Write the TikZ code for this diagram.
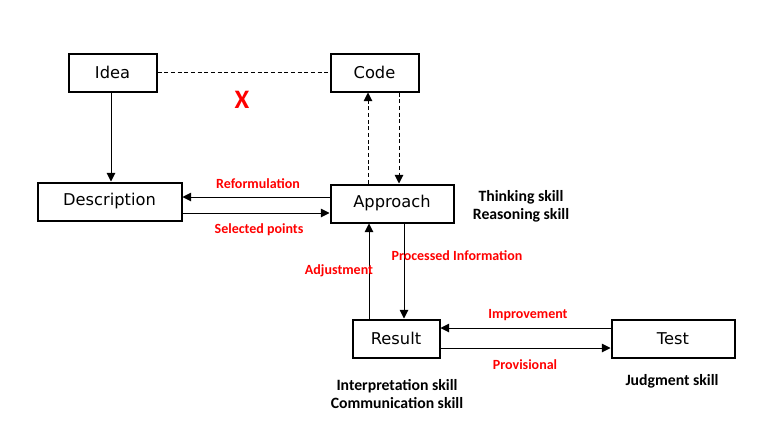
\documentclass[tikz,border=0pt]{standalone}
\usepackage{fontspec}
\setmainfont{DejaVu Sans}
\newfontfamily\lblfont{Carlito}
\usetikzlibrary{arrows.meta}
\definecolor{lblred}{RGB}{255,0,0}
\begin{document}
\begin{tikzpicture}[x=0.75pt,y=-0.75pt,
  box/.style={draw,line width=1.5pt,minimum height=28.5pt,inner sep=0pt,font=\fontsize{12.2}{14}\selectfont},
  conn/.style={line width=0.75pt},
  arr/.style={conn,-{Triangle[length=6.5pt,width=6.5pt]}},
  dsh/.style={dash pattern=on 3pt off 2pt},
  redlbl/.style={text=lblred,font=\lblfont\bfseries\fontsize{10.5}{12}\selectfont,inner sep=0pt},
  skill/.style={font=\lblfont\bfseries\fontsize{11.8}{13.5}\selectfont,align=center,inner sep=0pt}]
\useasboundingbox (0,0) rectangle (761,443);
\node[box,minimum width=66pt] (idea) at (112.5,72.5) {\raisebox{-0.5pt}{Idea}};
\node[box,minimum width=66pt] (code) at (374.5,72.5) {\raisebox{-0.5pt}{Code}};
\node[box,minimum width=108pt] (desc) at (109.5,201.5) {\raisebox{-1pt}{Description}};
\node[box,minimum width=92.25pt] (appr) at (392,203.5) {\raisebox{-1pt}{Approach}};
\node[box,minimum width=65.25pt] (res) at (396,338.5) {\raisebox{-0.5pt}{Result}};
\node[box,minimum width=92.25pt] (test) at (673,338.5) {\raisebox{-0.5pt}{Test}};

\draw[arr] (111,0 |- idea.south) -- (111,0 |- desc.north);
\draw[conn,dsh] (idea.east) -- (code.west);
\draw[arr,dsh] (368,0 |- appr.north) -- (368,0 |- code.south);
\draw[arr,dsh] (399,0 |- code.south) -- (399,0 |- appr.north);
\draw[arr] (appr.west |- 0,197) -- (desc.east |- 0,197);
\draw[arr] (desc.east |- 0,213) -- (appr.west |- 0,213);
\draw[arr] (404,0 |- appr.south) -- (404,0 |- res.north);
\draw[arr] (369,0 |- res.north) -- (369,0 |- appr.south);
\draw[arr] (test.west |- 0,328) -- (res.east |- 0,328);
\draw[arr] (res.east |- 0,348) -- (test.west |- 0,348);

\node[text=lblred,font=\lblfont\bfseries\fontsize{20}{22}\selectfont,inner sep=0pt] (x) at (242,100) {X};
\node[redlbl] (reform) at (258,183.5) {Reformulation};
\node[redlbl] (selpts) at (259,230) {Selected points};
\node[redlbl] (procinf) at (457,255.5) {Processed Information};
\node[redlbl] (adj) at (339,271) {Adjustment};
\node[redlbl] (impr) at (528,315.5) {Improvement};
\node[redlbl] (prov) at (525,364.5) {Provisional};
\node[skill] (thk) at (521,206.5) {Thinking skill\\Reasoning skill};
\node[skill] (interp) at (397,394) {Interpretation skill\\Communication skill};
\node[skill] (judg) at (672,381) {Judgment skill};
\end{tikzpicture}
\end{document}
